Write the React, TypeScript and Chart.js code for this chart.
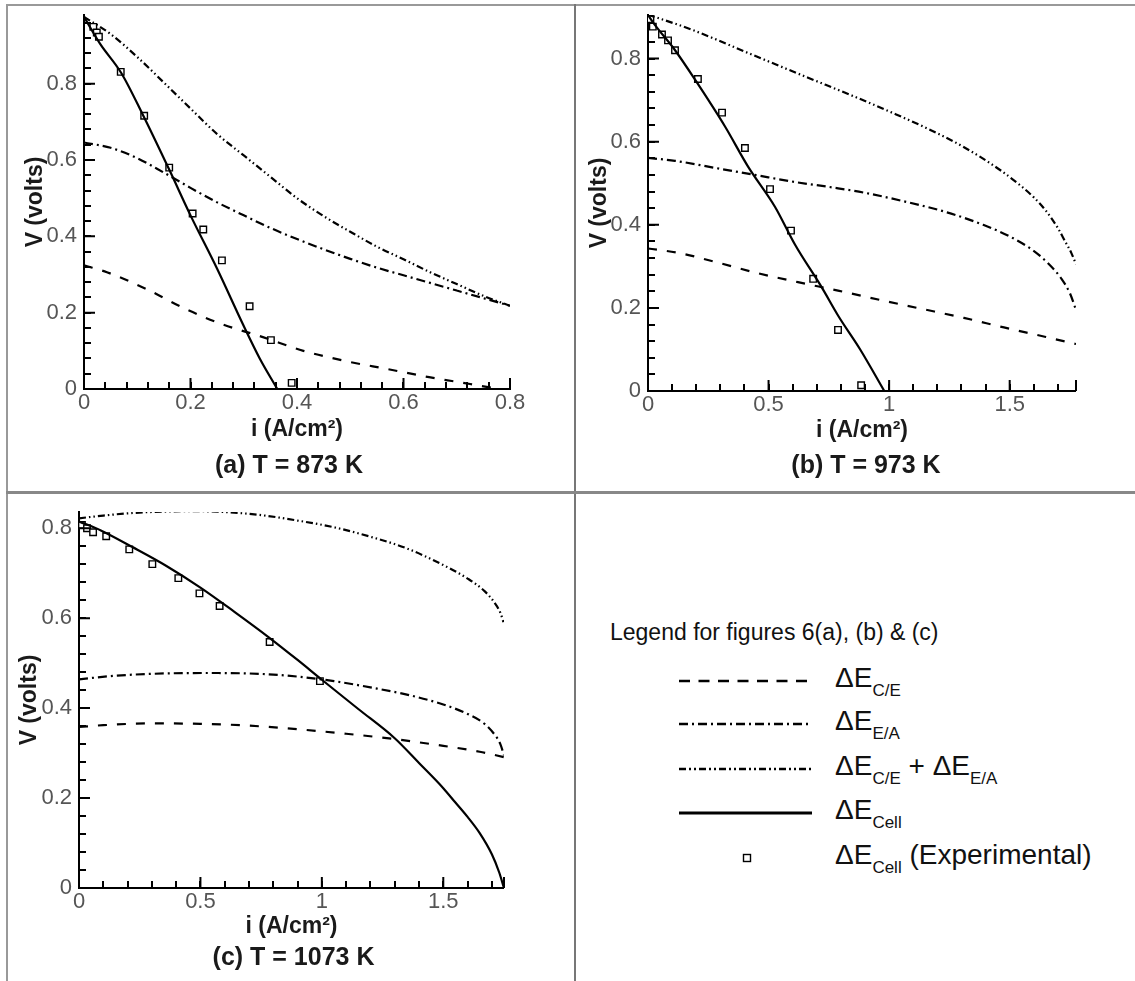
import React, { useEffect, useRef } from 'react';
import { Chart, registerables } from 'chart.js';

Chart.register(...registerables);

const FONT = "'Liberation Sans', Arial, Helvetica, sans-serif";

// ---------- Panel (a) T = 873 K ----------
const aCeI = [0, 0.043, 0.12, 0.19, 0.259, 0.336, 0.412, 0.492, 0.571, 0.648, 0.725, 0.78];
const aCeV = [0.324, 0.306, 0.26, 0.21, 0.17, 0.136, 0.1, 0.073, 0.052, 0.031, 0.013, 0.0];
const aEaI = [0, 0.05, 0.1, 0.15, 0.2, 0.25, 0.3, 0.35, 0.4, 0.45, 0.5, 0.55, 0.6, 0.65, 0.7, 0.75, 0.8];
const aEaV = [0.646, 0.632, 0.605, 0.567, 0.527, 0.489, 0.455, 0.422, 0.393, 0.366, 0.341, 0.318, 0.298, 0.278, 0.258, 0.238, 0.218];
const aSumI = [0, 0.05, 0.1, 0.15, 0.2, 0.25, 0.3, 0.35, 0.4, 0.45, 0.5, 0.55, 0.6, 0.65, 0.7, 0.75, 0.8];
const aSumV = [0.975, 0.93, 0.87, 0.803, 0.735, 0.668, 0.612, 0.556, 0.5, 0.453, 0.412, 0.373, 0.34, 0.306, 0.275, 0.244, 0.218];
const aCellI = [0, 0.03, 0.07, 0.11, 0.16, 0.2, 0.25, 0.3, 0.33, 0.363];
const aCellV = [0.975, 0.905, 0.828, 0.72, 0.575, 0.455, 0.315, 0.165, 0.08, 0];
const aExpI = [0.0175, 0.024, 0.028, 0.069, 0.113, 0.16, 0.204, 0.224, 0.259, 0.311, 0.351, 0.39];
const aExpV = [0.949, 0.934, 0.923, 0.831, 0.716, 0.58, 0.46, 0.418, 0.337, 0.217, 0.128, 0.016];

// ---------- Panel (b) T = 973 K ----------
const bCeI = [0, 0.13, 0.29, 0.452, 0.622, 0.793, 0.971, 1.133, 1.31, 1.476, 1.65, 1.775];
const bCeV = [0.343, 0.332, 0.309, 0.284, 0.262, 0.241, 0.218, 0.198, 0.176, 0.153, 0.13, 0.113];
const bEaI = [0, 0.112, 0.278, 0.444, 0.61, 0.776, 0.9, 1.058, 1.24, 1.39, 1.5, 1.593, 1.66, 1.715, 1.75, 1.775];
const bEaV = [0.561, 0.554, 0.537, 0.52, 0.503, 0.489, 0.477, 0.457, 0.43, 0.4, 0.372, 0.34, 0.307, 0.27, 0.235, 0.195];
const bSumI = [0, 0.18, 0.43, 0.664, 0.838, 1.004, 1.158, 1.307, 1.46, 1.55, 1.6, 1.65, 1.7, 1.73, 1.755, 1.775];
const bSumV = [0.906, 0.87, 0.81, 0.754, 0.713, 0.672, 0.632, 0.588, 0.532, 0.492, 0.466, 0.434, 0.392, 0.36, 0.333, 0.305];
const bCellI = [0, 0.03, 0.11, 0.2, 0.32, 0.415, 0.527, 0.61, 0.72, 0.79, 0.88, 0.98];
const bCellV = [0.905, 0.88, 0.822, 0.745, 0.636, 0.54, 0.443, 0.352, 0.25, 0.18, 0.1, 0];
const bExpI = [0.01, 0.02, 0.058, 0.083, 0.112, 0.207, 0.307, 0.402, 0.506, 0.593, 0.685, 0.788, 0.884];
const bExpV = [0.895, 0.877, 0.858, 0.844, 0.82, 0.751, 0.67, 0.585, 0.486, 0.386, 0.27, 0.147, 0.014];

// ---------- Panel (c) T = 1073 K ----------
const cCeI = [0, 0.1, 0.3, 0.5, 0.7, 0.9, 1.1, 1.3, 1.5, 1.65, 1.75];
const cCeV = [0.358, 0.362, 0.366, 0.365, 0.361, 0.353, 0.343, 0.331, 0.316, 0.303, 0.291];
const cEaI = [0, 0.15, 0.35, 0.55, 0.75, 0.9, 1.05, 1.2, 1.35, 1.5, 1.6, 1.67, 1.71, 1.735, 1.75];
const cEaV = [0.464, 0.472, 0.477, 0.478, 0.476, 0.47, 0.46, 0.446, 0.43, 0.408, 0.387, 0.365, 0.342, 0.32, 0.295];
const cSumI = [0, 0.1, 0.2, 0.3, 0.45, 0.6, 0.75, 0.9, 1.05, 1.2, 1.35, 1.5, 1.6, 1.67, 1.71, 1.735, 1.748];
const cSumV = [0.822, 0.828, 0.833, 0.836, 0.838, 0.836, 0.829, 0.817, 0.802, 0.781, 0.755, 0.718, 0.688, 0.66, 0.635, 0.612, 0.591];
const cCellI = [0, 0.09, 0.22, 0.36, 0.5, 0.64, 0.78, 0.9, 1.0, 1.15, 1.3, 1.4, 1.5, 1.55, 1.6, 1.65, 1.7, 1.73, 1.75];
const cCellV = [0.815, 0.795, 0.758, 0.716, 0.668, 0.614, 0.558, 0.507, 0.463, 0.398, 0.333, 0.278, 0.222, 0.19, 0.158, 0.122, 0.075, 0.035, 0];
const cExpI = [0.012, 0.033, 0.058, 0.112, 0.207, 0.302, 0.409, 0.496, 0.579, 0.785, 0.992];
const cExpV = [0.807, 0.8, 0.791, 0.782, 0.753, 0.72, 0.689, 0.655, 0.627, 0.547, 0.46];

// axis ranges
const aXMax = 0.8, aYMax = 0.98;
const bXMax = 1.775, bYMax = 0.905;
const cXMax = 1.75, cYMax = 0.836;

const X_TITLE = 'i (A/cm\u00B2)';
const Y_TITLE = 'V (volts)';

const pts = (xs: number[], ys: number[]) => xs.map((x, i) => ({ x, y: ys[i] }));

const DASH_CE = [9, 10];
const DASH_EA = [9, 4, 2, 4];
const DASH_SUM = [7, 3, 1.5, 3, 1.5, 3];

type PanelSpec = {
  left: number; top: number; w: number; h: number;
  pad: { left: number; top: number; right: number; bottom: number };
  yW: number; xH: number; xTitlePad: number; yTitlePad: number;
  xMax: number; yMax: number; xStep: number; xMinor: number;
  title: string; titleY: number; titleDx: number;
  ce: any[]; ea: any[]; sum: any[]; cell: any[]; exp: any[];
};

const PANELS: PanelSpec[] = [
  {
    left: 8, top: 6, w: 566, h: 485,
    pad: { left: 0, top: 9, right: 64, bottom: 42 },
    yW: 76, xH: 60, xTitlePad: 6, yTitlePad: 14,
    xMax: aXMax, yMax: aYMax, xStep: 0.2, xMinor: 0.04,
    title: '(a) T = 873 K', titleY: 460, titleDx: -8,
    ce: pts(aCeI, aCeV), ea: pts(aEaI, aEaV), sum: pts(aSumI, aSumV), cell: pts(aCellI, aCellV), exp: pts(aExpI, aExpV),
  },
  {
    left: 576, top: 6, w: 559, h: 485,
    pad: { left: 0, top: 9, right: 59, bottom: 40 },
    yW: 72, xH: 60, xTitlePad: 7, yTitlePad: 10,
    xMax: bXMax, yMax: bYMax, xStep: 0.5, xMinor: 0.1,
    title: '(b) T = 973 K', titleY: 460, titleDx: 4,
    ce: pts(bCeI, bCeV), ea: pts(bEaI, bEaV), sum: pts(bSumI, bSumV), cell: pts(bCellI, bCellV), exp: pts(bExpI, bExpV),
  },
  {
    left: 8, top: 494, w: 566, h: 487,
    pad: { left: 0, top: 18, right: 70, bottom: 33 },
    yW: 71, xH: 60, xTitlePad: 8, yTitlePad: 8,
    xMax: cXMax, yMax: cYMax, xStep: 0.5, xMinor: 0.1,
    title: '(c) T = 1073 K', titleY: 464, titleDx: 2,
    ce: pts(cCeI, cCeV), ea: pts(cEaI, cEaV), sum: pts(cSumI, cSumV), cell: pts(cCellI, cCellV), exp: pts(cExpI, cExpV),
  },
];

const isMajor = (v: number, m: number) => Math.abs(v / m - Math.round(v / m)) < 1e-6;
const fmt = (v: any) => String(Number(Number(v).toFixed(3)));
const TICK_LEN = 7;

// lengthens the major tick marks and adds the tick at the end of the x axis
function makeMajorTicks(spec: PanelSpec) {
  return {
    id: 'majorTicks',
    afterDraw(chart: any) {
      const ctx: CanvasRenderingContext2D = chart.ctx;
      const area = chart.chartArea;
      const xs = chart.scales.x;
      const ys = chart.scales.y;
      ctx.save();
      ctx.setLineDash([]);
      ctx.strokeStyle = '#000';
      ctx.lineWidth = 2;
      ctx.beginPath();
      const xVals: number[] = [];
      for (let v = 0; v <= spec.xMax + 1e-9; v += spec.xStep) xVals.push(v);
      xVals.push(spec.xMax);
      for (const v of xVals) {
        const p = xs.getPixelForValue(v);
        ctx.moveTo(p, area.bottom);
        ctx.lineTo(p, area.bottom - 11);
      }
      for (let v = 0; v <= spec.yMax + 1e-9; v += 0.2) {
        const p = ys.getPixelForValue(v);
        ctx.moveTo(area.left, p);
        ctx.lineTo(area.left + 11, p);
      }
      ctx.stroke();
      ctx.restore();
    },
  };
}

function makePanelTitle(spec: PanelSpec) {
  return {
    id: 'panelTitle',
    afterDraw(chart: any) {
      const { ctx, chartArea } = chart;
      ctx.save();
      ctx.font = `bold 25px ${FONT}`;
      ctx.fillStyle = '#1a1a1a';
      ctx.textAlign = 'center';
      ctx.textBaseline = 'middle';
      ctx.fillText(spec.title, (chartArea.left + chartArea.right) / 2 + spec.titleDx, spec.titleY);
      ctx.restore();
    },
  };
}

function lineDs(label: string, data: any[], dash: number[], width: number) {
  return {
    label, data, borderColor: '#000', borderWidth: width, borderDash: dash,
    pointRadius: 0, fill: false, cubicInterpolationMode: 'monotone' as const, showLine: true,
  };
}

function Panel({ spec }: { spec: PanelSpec }) {
  const ref = useRef<HTMLCanvasElement | null>(null);
  useEffect(() => {
    if (!ref.current) return;
    const gridOpts = {
      display: true, drawOnChartArea: false, drawTicks: true,
      tickLength: -TICK_LEN, tickWidth: 2, tickColor: '#000', color: '#000', lineWidth: 0,
    };
    const chart = new Chart(ref.current, {
      type: 'line',
      data: {
        datasets: [
          lineDs('\u0394E C/E', spec.ce, DASH_CE, 2.2),
          lineDs('\u0394E E/A', spec.ea, DASH_EA, 2.2),
          lineDs('\u0394E C/E + \u0394E E/A', spec.sum, DASH_SUM, 2.2),
          lineDs('\u0394E Cell', spec.cell, [], 2.2),
          {
            label: '\u0394E Cell (Experimental)', data: spec.exp, showLine: false,
            pointStyle: 'rect', pointRadius: 4.6, pointBorderWidth: 1.4,
            pointBorderColor: '#000', pointBackgroundColor: '#fff', borderColor: '#000', backgroundColor: '#fff',
          } as any,
        ],
      },
      options: {
        animation: false,
        responsive: false,
        maintainAspectRatio: false,
        events: [],
        layout: { padding: spec.pad },
        plugins: {
          legend: { display: false },
          tooltip: { enabled: false },
        },
        scales: {
          x: {
            type: 'linear', min: 0, max: spec.xMax,
            grid: gridOpts,
            border: { display: true, color: '#000', width: 2 },
            ticks: {
              stepSize: spec.xMinor, includeBounds: false, autoSkip: false, padding: 1 + TICK_LEN,
              color: '#555', font: { family: FONT, size: 22 }, maxRotation: 0,
              callback: (v: any) => (isMajor(Number(v), spec.xStep) ? fmt(v) : ''),
            },
            title: { display: true, text: X_TITLE, color: '#1a1a1a', font: { family: FONT, size: 23, weight: 'bold' }, padding: { top: 0, bottom: spec.xTitlePad } },
            afterFit: (s: any) => { s.height = spec.xH; s.paddingLeft = 0; s.paddingRight = 0; },
          },
          y: {
            type: 'linear', min: 0, max: spec.yMax,
            grid: gridOpts,
            border: { display: true, color: '#000', width: 2 },
            ticks: {
              stepSize: 0.04, includeBounds: false, autoSkip: false, padding: 7 + TICK_LEN,
              color: '#555', font: { family: FONT, size: 22 },
              callback: (v: any) => (isMajor(Number(v), 0.2) ? fmt(v) : ''),
            },
            title: { display: true, text: Y_TITLE, color: '#1a1a1a', font: { family: FONT, size: 23, weight: 'bold' }, padding: { top: spec.yTitlePad, bottom: 0 } },
            afterFit: (s: any) => { s.width = spec.yW; s.paddingTop = 0; s.paddingBottom = 0; },
          },
        },
      } as any,
      plugins: [makePanelTitle(spec), makeMajorTicks(spec)],
    });
    return () => chart.destroy();
  }, [spec]);
  return (
    <canvas
      ref={ref}
      width={spec.w}
      height={spec.h}
      style={{ position: 'absolute', left: spec.left, top: spec.top, width: spec.w, height: spec.h }}
    />
  );
}

const LEG_X1 = 679, LEG_X2 = 812, LEG_TEXT_X = 835, LEG_SQUARE_X = 747;
const LEG_ROWS_Y = [681, 724, 769, 813, 858];

function Sub({ children }: { children: React.ReactNode }) {
  return <span style={{ fontSize: 17, position: 'relative', top: 9 }}>{children}</span>;
}

function LegendSample({ kind, y }: { kind: string; y: number }) {
  const w = LEG_X2 - LEG_X1;
  let el: React.ReactNode = null;
  if (kind === 'ce') el = <line x1={0} y1={5} x2={w} y2={5} stroke="#000" strokeWidth={2.5} strokeDasharray="11 8.5" />;
  if (kind === 'ea') el = <line x1={0} y1={5} x2={w} y2={5} stroke="#000" strokeWidth={2.5} strokeDasharray="9 4 2 4" />;
  if (kind === 'sum') el = <line x1={0} y1={5} x2={w} y2={5} stroke="#000" strokeWidth={2.5} strokeDasharray="7 3 2 3 2 3" />;
  if (kind === 'cell') el = <line x1={0} y1={5} x2={w} y2={5} stroke="#000" strokeWidth={3} />;
  if (kind === 'exp') el = <rect x={LEG_SQUARE_X - LEG_X1 - 3.5} y={1.5} width={7} height={7} fill="#fff" stroke="#000" strokeWidth={1.4} />;
  return (
    <svg width={w} height={10} style={{ position: 'absolute', left: LEG_X1, top: y - 5 }}>
      {el}
    </svg>
  );
}

export default function App() {
  const textStyle = (y: number): React.CSSProperties => ({
    position: 'absolute', left: LEG_TEXT_X, top: y - 20, fontFamily: FONT, fontSize: 28,
    lineHeight: '34px', color: '#111', whiteSpace: 'nowrap',
  });
  return (
    <div style={{ position: 'fixed', left: 0, top: 0, width: 1135, height: 981, background: '#fff', overflow: 'hidden' }}>
      {PANELS.map((p, i) => <Panel key={i} spec={p} />)}

      {/* frame lines */}
      <div style={{ position: 'absolute', left: 6, top: 4, width: 1129, height: 2, background: '#999' }} />
      <div style={{ position: 'absolute', left: 6, top: 4, width: 2, height: 977, background: '#999' }} />
      <div style={{ position: 'absolute', left: 574, top: 4, width: 2, height: 977, background: '#777' }} />
      <div style={{ position: 'absolute', left: 6, top: 491, width: 1129, height: 3, background: '#888' }} />

      {/* legend panel */}
      <div style={{ position: 'absolute', left: 610, top: 617, fontFamily: FONT, fontSize: 23, lineHeight: '30px', color: '#111', whiteSpace: 'nowrap' }}>
        Legend for figures 6(a), (b) &amp; (c)
      </div>
      <LegendSample kind="ce" y={LEG_ROWS_Y[0]} />
      <LegendSample kind="ea" y={LEG_ROWS_Y[1]} />
      <LegendSample kind="sum" y={LEG_ROWS_Y[2]} />
      <LegendSample kind="cell" y={LEG_ROWS_Y[3]} />
      <LegendSample kind="exp" y={LEG_ROWS_Y[4]} />
      <div style={textStyle(LEG_ROWS_Y[0])}>{'\u0394E'}<Sub>C/E</Sub></div>
      <div style={textStyle(LEG_ROWS_Y[1])}>{'\u0394E'}<Sub>E/A</Sub></div>
      <div style={textStyle(LEG_ROWS_Y[2])}>{'\u0394E'}<Sub>C/E</Sub>{' + \u0394E'}<Sub>E/A</Sub></div>
      <div style={textStyle(LEG_ROWS_Y[3])}>{'\u0394E'}<Sub>Cell</Sub></div>
      <div style={textStyle(LEG_ROWS_Y[4])}>{'\u0394E'}<Sub>Cell</Sub>{' (Experimental)'}</div>
    </div>
  );
}
